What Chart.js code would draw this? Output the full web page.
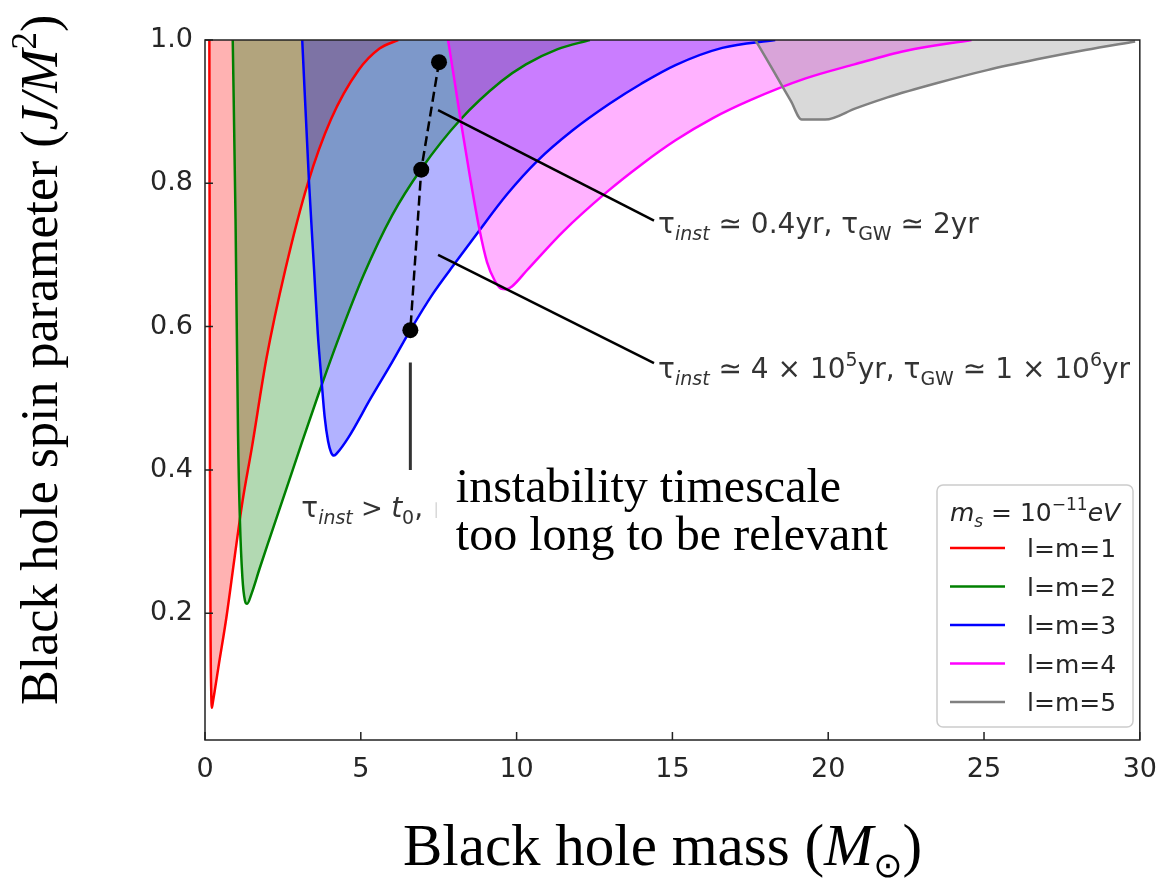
<!DOCTYPE html>
<html>
<head>
<meta charset="utf-8">
<script src="https://cdn.jsdelivr.net/npm/chart.js@4.4.0/dist/chart.umd.min.js"></script>
<style>
  html, body { margin: 0; padding: 0; background: #fff; }
  #wrap { width: 1171px; height: 884px; }
</style>
</head>
<body>
<div id="wrap"><canvas id="spinChart" width="1171" height="884"></canvas></div>
<script>
// sumbu
const xTicks = [0, 5, 10, 15, 20, 25, 30];
const yTicks = [0.2, 0.4, 0.6, 0.8, 1.0];
const yMin = 0.023;

// mode l=m=1..5
const modeLabels = ['l=m=1', 'l=m=2', 'l=m=3', 'l=m=4', 'l=m=5'];
const modeColors = ['#ff0000', '#008000', '#0000ff', '#ff00ff', '#808080'];
const modeFills = ['rgba(255,0,0,0.3)', 'rgba(0,128,0,0.3)', 'rgba(0,0,255,0.3)', 'rgba(255,0,255,0.3)', 'rgba(128,128,128,0.3)'];

const mass1 = [0.14, 0.16, 0.18, 0.2, 0.22, 0.25, 0.45, 0.69, 0.95, 1.2, 1.5, 1.97, 2.58, 3.3, 4.04, 4.93, 5.6, 6.2];
const spin1 = [1.0, 0.39, 0.16, 0.09, 0.068, 0.075, 0.13, 0.195, 0.278, 0.355, 0.43, 0.555, 0.68, 0.8, 0.889, 0.958, 0.988, 1.0];

const mass2 = [0.89, 0.98, 1.06, 1.12, 1.2, 1.28, 1.35, 1.5, 1.75, 2.04, 2.6, 3.1, 3.66, 4.3, 5.09, 6.0, 6.94, 8.2, 9.5, 10.3, 11.3, 12.35];
const spin2 = [1.0, 0.75, 0.45, 0.33, 0.25, 0.218, 0.213, 0.228, 0.262, 0.3, 0.372, 0.437, 0.508, 0.585, 0.672, 0.755, 0.82, 0.889, 0.942, 0.966, 0.987, 1.0];

const mass3 = [3.12, 3.34, 3.5, 3.62, 3.74, 3.84, 3.95, 4.05, 4.14, 4.25, 4.6, 5.32, 6.0, 6.59, 7.3, 8.05, 8.75, 9.7, 10.66, 11.8, 12.98, 14.0, 15.1, 16.6, 18.3];
const spin3 = [1.0, 0.8, 0.68, 0.59, 0.525, 0.474, 0.44, 0.424, 0.42, 0.424, 0.445, 0.5, 0.55, 0.595, 0.645, 0.69, 0.731, 0.785, 0.831, 0.874, 0.911, 0.939, 0.965, 0.989, 1.0];

const mass4 = [7.8, 8.0, 8.2, 8.5, 8.81, 9.05, 9.3, 9.5, 9.65, 9.85, 10.34, 11.5, 12.9, 14.0, 15.1, 16.3, 17.5, 19.25, 20.84, 22.5, 24.6];
const spin4 = [1.0, 0.945, 0.889, 0.81, 0.735, 0.69, 0.664, 0.653, 0.652, 0.656, 0.679, 0.733, 0.788, 0.826, 0.86, 0.891, 0.916, 0.946, 0.966, 0.985, 1.0];

const mass5 = [17.66, 18.0, 18.4, 18.8, 19.15, 19.9, 20.9, 21.9, 23.5, 25.1, 26.7, 28.25, 29.85];
const spin5 = [1.0, 0.975, 0.945, 0.915, 0.889, 0.889, 0.905, 0.92, 0.94, 0.958, 0.973, 0.986, 0.998];

// titik contoh + garis penunjuk
const dotMass = [7.51, 6.94, 6.59];
const dotSpin = [0.969, 0.819, 0.595];
const leaderAMass = [7.48, 14.41];
const leaderASpin = [0.902, 0.748];
const leaderBMass = [7.48, 14.41];
const leaderBSpin = [0.700, 0.549];
const stemMass = [6.59, 6.59];
const stemSpin = [0.55, 0.40];

const modeMass = [mass1, mass2, mass3, mass4, mass5];
const modeSpin = [spin1, spin2, spin3, spin4, spin5];

function toPoints(xs, ys) {
    return xs.map((x, i) => ({ x: x, y: ys[i] }));
}

const SANS = '"DejaVu Sans", sans-serif';
const SERIF = '"Liberation Serif", "DejaVu Serif", serif';
const TEXT = '#262626';

// tulis teks bergaya mathtext: potongan [teks, font, geserY]
function drawRuns(ctx, runs, x, y, align) {
    let w = 0;
    runs.forEach(r => { ctx.font = r[1]; w += ctx.measureText(r[0]).width; });
    let cx = align === 'center' ? x - w / 2 : x;
    ctx.textAlign = 'left';
    ctx.textBaseline = 'alphabetic';
    runs.forEach(r => {
        ctx.font = r[1];
        ctx.fillText(r[0], cx, y + (r[2] || 0));
        cx += ctx.measureText(r[0]).width;
    });
}

const datasets = [];
modeLabels.forEach((label, i) => {
    datasets.push({
        label: label,
        data: toPoints(modeMass[i], modeSpin[i]),
        borderColor: modeColors[i],
        backgroundColor: modeFills[i],
        borderWidth: 2.5,
        pointRadius: 0,
        fill: 'end',
        cubicInterpolationMode: 'monotone',
        order: 5 - i
    });
});

datasets.push({
    label: 'dots',
    data: toPoints(dotMass, dotSpin),
    borderColor: '#000',
    borderWidth: 2.5,
    borderDash: [10, 5],
    pointRadius: 8,
    pointBackgroundColor: '#000',
    pointBorderWidth: 0,
    fill: false,
    order: 0
});
[[leaderAMass, leaderASpin, '#000', 2.5], [leaderBMass, leaderBSpin, '#000', 2.5], [stemMass, stemSpin, '#333', 3]].forEach(l => {
    datasets.push({
        label: 'line',
        data: toPoints(l[0], l[1]),
        borderColor: l[2],
        borderWidth: l[3],
        pointRadius: 0,
        fill: false,
        order: 0
    });
});

const framePlugin = {
    id: 'frame',
    afterDatasetsDraw(chart) {
        const { ctx, chartArea: a, scales } = chart;
        ctx.save();
        ctx.strokeStyle = '#222';
        ctx.lineWidth = 1.5;
        ctx.strokeRect(a.left, a.top, a.right - a.left, a.bottom - a.top);
        // tick ke dalam
        ctx.beginPath();
        xTicks.forEach(v => {
            const px = scales.x.getPixelForValue(v);
            ctx.moveTo(px, a.bottom);
            ctx.lineTo(px, a.bottom - 8);
        });
        yTicks.forEach(v => {
            const py = scales.y.getPixelForValue(v);
            ctx.moveTo(a.left, py);
            ctx.lineTo(a.left + 8, py);
        });
        ctx.stroke();

        // tanda samar setelah t0
        ctx.strokeStyle = '#d8d8d8';
        ctx.lineWidth = 1.5;
        ctx.beginPath();
        ctx.moveTo(scales.x.getPixelForValue(7.42), scales.y.getPixelForValue(0.355));
        ctx.lineTo(scales.x.getPixelForValue(7.42), scales.y.getPixelForValue(0.333));
        ctx.stroke();
        ctx.restore();
    },
    afterDraw(chart) {
        const { ctx, scales } = chart;
        const X = v => scales.x.getPixelForValue(v);
        const Y = v => scales.y.getPixelForValue(v);
        ctx.save();

        // keterangan timescale
        ctx.fillStyle = '#333';
        const big = '28px ' + SANS, sub = 'italic 19px ' + SANS, subU = '19px ' + SANS;
        drawRuns(ctx, [['τ', big], ['inst', sub, 7], [' ≃ 0.4yr, ', big], ['τ', big], ['GW', subU, 7], [' ≃ 2yr', big]], X(14.54), Y(0.7306));
        drawRuns(ctx, [['τ', big], ['inst', sub, 7], [' ≃ 4 × 10', big], ['5', subU, -12], ['yr, ', big], ['τ', big], ['GW', subU, 7], [' ≃ 1 × 10', big], ['6', subU, -12], ['yr', big]], X(14.54), Y(0.5283));
        drawRuns(ctx, [['τ', big], ['inst', sub, 7], [' > ', '26px ' + SANS], ['t', 'italic 28px ' + SANS], ['0', subU, 7], [',', big]], X(3.09), Y(0.3343));

        ctx.fillStyle = '#000';
        ctx.font = '48px ' + SERIF;
        ctx.textAlign = 'left';
        ctx.fillText('instability timescale', X(8.05), Y(0.3552));
        ctx.fillText('too long to be relevant', X(8.05), Y(0.2882));

        // judul sumbu
        const xf = '59px ' + SERIF;
        drawRuns(ctx, [['Black hole mass (', xf], ['M', 'italic ' + xf], ['⊙', '35px "DejaVu Sans"', 12], [')', xf]], 403, 865);

        ctx.save();
        ctx.translate(57, 705);
        ctx.rotate(-Math.PI / 2);
        const yf = '52px ' + SERIF;
        drawRuns(ctx, [['Black hole spin parameter (', yf], ['J/M', 'italic ' + yf], ['2', '35px ' + SERIF, -21], [')', yf]], 0, 0);
        ctx.restore();

        // legenda
        const lx = 937, ly = 485, lw = 196, lh = 242;
        ctx.fillStyle = 'rgba(255,255,255,0.85)';
        ctx.strokeStyle = '#cccccc';
        ctx.lineWidth = 1.5;
        ctx.beginPath();
        ctx.roundRect(lx, ly, lw, lh, 6);
        ctx.fill();
        ctx.stroke();

        ctx.fillStyle = TEXT;
        const lf = '25px ' + SANS;
        drawRuns(ctx, [['m', 'italic ' + lf], ['s', 'italic 17px ' + SANS, 6], [' = 10', lf], ['−11', '17px ' + SANS, -11], ['eV', 'italic ' + lf]], lx + lw / 2, 521, 'center');

        modeLabels.forEach((label, i) => {
            const ry = 548 + i * 38.5;
            ctx.strokeStyle = modeColors[i];
            ctx.lineWidth = 2.5;
            ctx.beginPath();
            ctx.moveTo(950, ry);
            ctx.lineTo(1005, ry);
            ctx.stroke();
            ctx.fillStyle = TEXT;
            ctx.font = lf;
            ctx.fillText(label, 1027, ry + 9);
        });
        ctx.restore();
    }
};

const ctx = document.getElementById('spinChart').getContext('2d');
new Chart(ctx, {
    type: 'line',
    data: { datasets: datasets },
    options: {
        responsive: false,
        animation: false,
        devicePixelRatio: 1,
        events: [],
        layout: { padding: { left: 0, top: 40, right: 24, bottom: 0 } },
        plugins: {
            legend: { display: false },
            tooltip: { enabled: false },
            filler: { drawTime: 'beforeDatasetsDraw' }
        },
        scales: {
            x: {
                type: 'linear',
                min: 0,
                max: 30,
                afterBuildTicks: s => { s.ticks = xTicks.map(v => ({ value: v })); },
                afterFit: s => { s.height = 144; },
                grid: { display: false, drawTicks: false },
                border: { display: false },
                ticks: {
                    padding: 14,
                    color: TEXT,
                    font: { family: 'DejaVu Sans', size: 27 },
                    callback: v => String(v)
                }
            },
            y: {
                type: 'linear',
                min: yMin,
                max: 1.0,
                afterBuildTicks: s => { s.ticks = yTicks.map(v => ({ value: v })); },
                afterFit: s => { s.width = 205; },
                grid: { display: false, drawTicks: false },
                border: { display: false },
                ticks: {
                    padding: 12,
                    color: TEXT,
                    font: { family: 'DejaVu Sans', size: 27 },
                    callback: v => v.toFixed(1)
                }
            }
        }
    },
    plugins: [framePlugin]
});
</script>
</body>
</html>
